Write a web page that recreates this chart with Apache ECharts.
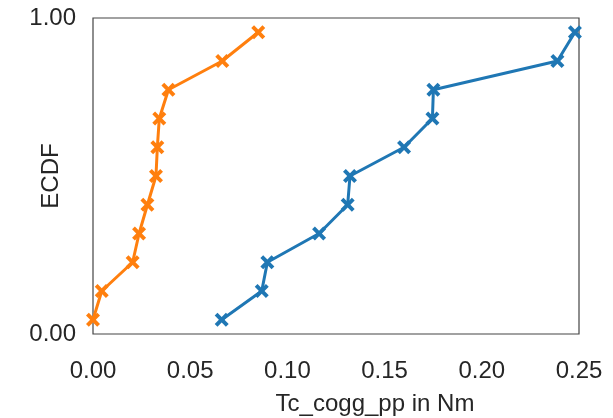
<!DOCTYPE html>
<html>
<head>
<meta charset="utf-8">
<script src="https://cdn.jsdelivr.net/npm/echarts@6/dist/echarts.min.js"></script>
<style>
  html, body { margin: 0; padding: 0; background: #fff; }
  #chart { width: 613px; height: 418px; }
</style>
</head>
<body>
<div id="chart"></div>
<script>
// ECDF levels shared by both samples (11 points each)
var ecdfLevels = [0.045, 0.136, 0.227, 0.318, 0.409, 0.5, 0.591, 0.682, 0.773, 0.864, 0.955];
// sorted Tc_cogg_pp values in Nm
var orangeValues = [0.000, 0.0045, 0.0204, 0.0237, 0.0280, 0.0324, 0.0331, 0.0341, 0.0388, 0.0665, 0.0850];
var blueValues = [0.0662, 0.0868, 0.0897, 0.1163, 0.1310, 0.1322, 0.1600, 0.1746, 0.1751, 0.2389, 0.2479];
var xTicks = [0, 0.05, 0.10, 0.15, 0.20, 0.25];
var yTicks = [0, 1];

function pairs(xs) {
  var res = [];
  for (var i = 0; i < xs.length; i++) {
    res.push([xs[i], ecdfLevels[i]]);
  }
  return res;
}

// thick "x" marker
var crossMark = 'path://M0,2 L2,0 L5,3 L8,0 L10,2 L7,5 L10,8 L8,10 L5,7 L2,10 L0,8 L3,5 Z';
var textColor = '#262626';
var font = 'Liberation Sans, Arial, sans-serif';

function ecdfSeries(name, xs, color) {
  return {
    name: name,
    type: 'line',
    data: pairs(xs),
    clip: false,
    symbol: crossMark,
    symbolSize: 14,
    lineStyle: { color: color, width: 3 },
    itemStyle: { color: color },
    z: 3
  };
}

var chart = echarts.init(document.getElementById('chart'), null, { renderer: 'canvas' });
chart.setOption({
  animation: false,
  backgroundColor: '#ffffff',
  grid: {
    left: 93, right: 34, top: 18, bottom: 84,
    show: true, borderColor: '#444', borderWidth: 1.2,
    outerBoundsMode: 'none'
  },
  xAxis: {
    type: 'value',
    min: xTicks[0],
    max: xTicks[xTicks.length - 1],
    interval: 0.05,
    name: 'Tc_cogg_pp in Nm',
    nameLocation: 'middle',
    nameGap: 58,
    nameMoveOverlap: false,
    nameTextStyle: { color: textColor, fontSize: 24, fontFamily: font, padding: [0, 0, 0, 78] },
    axisLine: { show: false },
    axisTick: { show: false },
    splitLine: { show: false },
    axisLabel: {
      color: textColor, fontSize: 24, fontFamily: font, margin: 25,
      formatter: function (v) { return v.toFixed(2); }
    }
  },
  yAxis: {
    type: 'value',
    min: yTicks[0],
    max: yTicks[1],
    interval: 1,
    name: 'ECDF',
    nameLocation: 'middle',
    nameGap: 30,
    nameMoveOverlap: false,
    nameTextStyle: { color: textColor, fontSize: 24, fontFamily: font },
    axisLine: { show: false },
    axisTick: { show: false },
    splitLine: { show: false },
    axisLabel: {
      color: textColor, fontSize: 24, fontFamily: font, margin: 17,
      formatter: function (v) { return v.toFixed(2); }
    }
  },
  series: [
    ecdfSeries('blue', blueValues, '#1f77b4'),
    ecdfSeries('orange', orangeValues, '#ff7f0e')
  ]
});
</script>
</body>
</html>
